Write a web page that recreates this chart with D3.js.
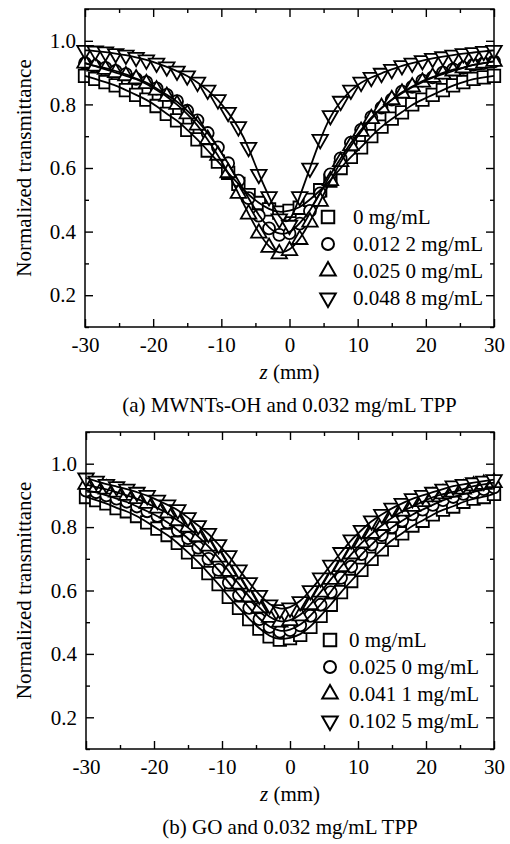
<!DOCTYPE html>
<html>
<head>
<meta charset="utf-8">
<script src="https://cdn.jsdelivr.net/npm/d3@7"></script>
<style>
  body { margin: 0; background: #fff; }
  svg { display: block; font-family: "Liberation Serif", "Times New Roman", serif; }
</style>
</head>
<body>
<svg id="chart" width="510" height="844"></svg>
<script>
const zValues = [-30, -28.5, -27, -25.5, -24, -22.5, -21, -19.5, -18, -16.5, -15, -13.5, -12, -10.5,
  -9, -7.5, -6, -4.5, -3, -1.5, 0, 1.5, 3, 4.5, 6, 7.5, 9, 10.5, 12, 13.5, 15, 16.5, 18, 19.5,
  21, 22.5, 24, 25.5, 27, 28.5, 30];

const xMajorTicks = [-30, -20, -10, 0, 10, 20, 30];
const xMinorTicks = [-25, -15, -5, 5, 15, 25];
const yMajorTicks = [0.2, 0.4, 0.6, 0.8, 1.0];
const yMinorTicks = [0.1, 0.3, 0.5, 0.7, 0.9, 1.1];

const labelsA = ['0 mg/mL', '0.012 2 mg/mL', '0.025 0 mg/mL', '0.048 8 mg/mL'];
const labelsB = ['0 mg/mL', '0.025 0 mg/mL', '0.041 1 mg/mL', '0.102 5 mg/mL'];

// (a) MWNTs-OH
const squareA = [0.89, 0.88, 0.87, 0.86, 0.845, 0.83, 0.815, 0.795, 0.77, 0.75, 0.72, 0.69, 0.655, 0.62,
  0.585, 0.55, 0.515, 0.49, 0.47, 0.46, 0.465, 0.475, 0.50, 0.53, 0.56, 0.60, 0.635, 0.665, 0.70, 0.73,
  0.755, 0.775, 0.80, 0.815, 0.83, 0.845, 0.86, 0.87, 0.88, 0.885, 0.89];
const circleA = [0.93, 0.92, 0.915, 0.905, 0.895, 0.88, 0.87, 0.85, 0.83, 0.81, 0.78, 0.75, 0.71, 0.665,
  0.615, 0.56, 0.505, 0.45, 0.41, 0.39, 0.395, 0.425, 0.465, 0.52, 0.58, 0.63, 0.68, 0.72, 0.76, 0.79,
  0.815, 0.84, 0.855, 0.875, 0.885, 0.90, 0.91, 0.915, 0.925, 0.93, 0.935];
const upA = [0.93, 0.92, 0.91, 0.90, 0.89, 0.88, 0.865, 0.845, 0.825, 0.80, 0.77, 0.735, 0.69, 0.64,
  0.585, 0.52, 0.455, 0.395, 0.35, 0.33, 0.34, 0.375, 0.43, 0.495, 0.56, 0.62, 0.67, 0.715, 0.755, 0.79,
  0.815, 0.835, 0.855, 0.87, 0.885, 0.895, 0.905, 0.915, 0.925, 0.93, 0.935];
const downA = [0.97, 0.968, 0.965, 0.96, 0.955, 0.948, 0.94, 0.93, 0.918, 0.905, 0.89, 0.87, 0.845, 0.815,
  0.775, 0.73, 0.665, 0.58, 0.51, 0.44, 0.42, 0.51, 0.60, 0.69, 0.765, 0.81, 0.845, 0.87, 0.885, 0.898,
  0.91, 0.922, 0.93, 0.938, 0.945, 0.95, 0.955, 0.96, 0.963, 0.967, 0.97];

// (b) GO
const squareB = [0.895, 0.885, 0.875, 0.86, 0.85, 0.835, 0.815, 0.795, 0.775, 0.75, 0.72, 0.69, 0.655, 0.62,
  0.58, 0.545, 0.51, 0.48, 0.455, 0.445, 0.45, 0.46, 0.485, 0.52, 0.555, 0.595, 0.63, 0.665, 0.70, 0.73,
  0.76, 0.78, 0.805, 0.82, 0.84, 0.855, 0.865, 0.88, 0.89, 0.895, 0.905];
const circleB = [0.915, 0.91, 0.90, 0.89, 0.88, 0.865, 0.85, 0.835, 0.815, 0.79, 0.765, 0.735, 0.70, 0.665,
  0.625, 0.585, 0.545, 0.51, 0.485, 0.47, 0.475, 0.49, 0.52, 0.555, 0.595, 0.64, 0.675, 0.715, 0.745, 0.775,
  0.80, 0.82, 0.84, 0.855, 0.87, 0.885, 0.895, 0.905, 0.91, 0.92, 0.925];
const upB = [0.935, 0.925, 0.92, 0.91, 0.90, 0.89, 0.875, 0.86, 0.845, 0.82, 0.80, 0.77, 0.74, 0.705,
  0.66, 0.62, 0.58, 0.545, 0.515, 0.50, 0.505, 0.52, 0.555, 0.595, 0.635, 0.675, 0.715, 0.75, 0.78, 0.805,
  0.83, 0.85, 0.865, 0.88, 0.895, 0.905, 0.91, 0.92, 0.93, 0.935, 0.94];
const downB = [0.955, 0.945, 0.935, 0.928, 0.92, 0.91, 0.90, 0.885, 0.87, 0.855, 0.83, 0.805, 0.78, 0.745,
  0.71, 0.665, 0.625, 0.585, 0.555, 0.54, 0.545, 0.565, 0.60, 0.64, 0.68, 0.72, 0.76, 0.79, 0.82, 0.84,
  0.86, 0.875, 0.89, 0.90, 0.91, 0.92, 0.93, 0.935, 0.94, 0.945, 0.95];

const symbolKinds = ['square', 'circle', 'up', 'down'];

const svg = d3.select('#chart');

function symbolPath(kind) {
  if (kind === 'square') return d3.symbol(d3.symbolSquare, 156)();
  if (kind === 'circle') return d3.symbol(d3.symbolCircle, 113)();
  return d3.symbol(d3.symbolTriangle, 104)();
}

function placeSymbol(sel, kind) {
  sel.attr('d', symbolPath(kind))
    .attr('fill', '#fff')
    .attr('stroke', '#000')
    .attr('stroke-width', 1.8);
}

function drawPanel(opts) {
  const {
    left, right, top, bottom,
    series, labels, caption,
    legendX, legendTextX, legendY,
  } = opts;
  const x = d3.scaleLinear().domain([-30, 30]).range([left, right]);
  const y = d3.scaleLinear().domain([0.1, 1.1]).range([bottom, top]);
  const g = svg.append('g');

  const styleAxis = (axisG, labelled) => {
    axisG.select('.domain').remove();
    axisG.selectAll('line').attr('stroke', '#000').attr('stroke-width', 1.4);
    axisG.selectAll('text')
      .attr('fill', '#000')
      .style('font-size', '21px')
      .style('font-family', '"Liberation Serif", "Times New Roman", serif');
    if (!labelled) axisG.selectAll('text').remove();
  };

  // ticks on all four sides, pointing inward
  g.append('g').attr('transform', `translate(0,${bottom})`)
    .call(d3.axisBottom(x).tickValues(xMajorTicks).tickSize(-8).tickPadding(10)
      .tickFormat(d => String(d)))
    .call(a => styleAxis(a, true));
  g.append('g').attr('transform', `translate(0,${bottom})`)
    .call(d3.axisBottom(x).tickValues(xMinorTicks).tickSize(-4).tickFormat(''))
    .call(a => styleAxis(a, false));
  g.append('g').attr('transform', `translate(0,${top})`)
    .call(d3.axisTop(x).tickValues(xMajorTicks).tickSize(-8).tickFormat(''))
    .call(a => styleAxis(a, false));
  g.append('g').attr('transform', `translate(0,${top})`)
    .call(d3.axisTop(x).tickValues(xMinorTicks).tickSize(-4).tickFormat(''))
    .call(a => styleAxis(a, false));
  g.append('g').attr('transform', `translate(${left},0)`)
    .call(d3.axisLeft(y).tickValues(yMajorTicks).tickSize(-8).tickPadding(9)
      .tickFormat(d3.format('.1f')))
    .call(a => styleAxis(a, true));
  g.append('g').attr('transform', `translate(${left},0)`)
    .call(d3.axisLeft(y).tickValues(yMinorTicks).tickSize(-4).tickFormat(''))
    .call(a => styleAxis(a, false));
  g.append('g').attr('transform', `translate(${right},0)`)
    .call(d3.axisRight(y).tickValues(yMajorTicks).tickSize(-8).tickFormat(''))
    .call(a => styleAxis(a, false));
  g.append('g').attr('transform', `translate(${right},0)`)
    .call(d3.axisRight(y).tickValues(yMinorTicks).tickSize(-4).tickFormat(''))
    .call(a => styleAxis(a, false));

  const plot = g.append('g');

  series.forEach((values, i) => {
    const pts = values.map((v, j) => ({ z: zValues[j], t: v }));
    plot.append('g')
      .selectAll('path')
      .data(pts)
      .join('path')
        .attr('transform', d => `translate(${x(d.z)},${y(d.t)})${symbolKinds[i] === 'down' ? ' rotate(180)' : ''}`)
        .call(placeSymbol, symbolKinds[i]);
  });

  const line = d3.line()
    .x(d => x(d.z))
    .y(d => y(d.t))
    .curve(d3.curveBasis);

  series.forEach(values => {
    plot.append('path')
      .datum(values.map((v, j) => ({ z: zValues[j], t: v })))
      .attr('fill', 'none')
      .attr('stroke', '#000')
      .attr('stroke-width', 1.8)
      .attr('d', line);
  });

  g.append('rect')
    .attr('x', left)
    .attr('y', top)
    .attr('width', right - left)
    .attr('height', bottom - top)
    .attr('fill', 'none')
    .attr('stroke', '#000')
    .attr('stroke-width', 1.5);

  const legend = g.append('g');
  labels.forEach((label, i) => {
    const cy = legendY + i * 27;
    legend.append('path')
      .attr('transform', `translate(${legendX},${cy})${symbolKinds[i] === 'down' ? ' rotate(180)' : ''}`)
      .call(placeSymbol, symbolKinds[i])
      .attr('stroke-width', 2);
    legend.append('text')
      .attr('x', legendTextX)
      .attr('y', cy + 7)
      .style('font-size', '21px')
      .text(label);
  });

  const cx = (left + right) / 2;
  const xLabel = g.append('text')
    .attr('x', cx)
    .attr('y', bottom + 52)
    .attr('text-anchor', 'middle')
    .style('font-size', '21px');
  xLabel.append('tspan').style('font-style', 'italic').text('z');
  xLabel.append('tspan').text(' (mm)');

  g.append('text')
    .attr('transform', `translate(31,${(top + bottom) / 2}) rotate(-90)`)
    .attr('text-anchor', 'middle')
    .style('font-size', '21px')
    .text('Normalized transmittance');

  g.append('text')
    .attr('x', cx)
    .attr('y', bottom + 85)
    .attr('text-anchor', 'middle')
    .style('font-size', '21px')
    .text(caption);
}

drawPanel({
  left: 85, right: 494, top: 9, bottom: 327,
  series: [squareA, circleA, upA, downA],
  labels: labelsA,
  caption: '(a) MWNTs-OH and 0.032 mg/mL TPP',
  legendX: 328, legendTextX: 353, legendY: 217,
});

drawPanel({
  left: 86, right: 494, top: 432, bottom: 749,
  series: [squareB, circleB, upB, downB],
  labels: labelsB,
  caption: '(b) GO and 0.032 mg/mL TPP',
  legendX: 330, legendTextX: 349, legendY: 640,
});
</script>
</body>
</html>
